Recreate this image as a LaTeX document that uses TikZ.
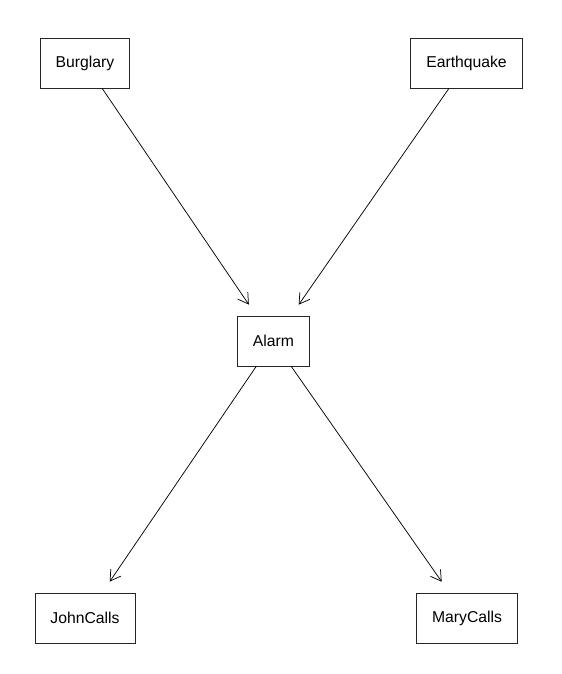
\documentclass[tikz,border=0pt]{standalone}
\usepackage{fontspec}
\setmainfont{Liberation Sans}
\usetikzlibrary{arrows.meta}
\begin{document}
\begin{tikzpicture}[
  x=0.75pt, y=-0.75pt,
  var/.style={draw=black!85, line width=0.55pt, fill=white,
    inner xsep=11.6pt, minimum height=37.5pt,
    font=\fontsize{11.8}{13.5}\selectfont},
  dep/.style={draw=black, line width=0.55pt,
    -{Straight Barb[length=7.6pt, width=9.2pt, line width=0.55pt]},
    shorten >=10pt}
]
\useasboundingbox (0,0) rectangle (561,674);

% variables of the network
\node[var] (burglary)   at (85,63)    {Burglary};
\node[var] (earthquake) at (466.5,63) {Earthquake};
\node[var] (alarm)      at (273.5,341){Alarm};
\node[var] (john)       at (85,618)   {JohnCalls};
\node[var] (mary)       at (467,618)  {MaryCalls};

% causal links
\draw[dep] (burglary)   -- (alarm);
\draw[dep] (earthquake) -- (alarm);
\draw[dep] (alarm)      -- (john);
\draw[dep] (alarm)      -- (mary);
\end{tikzpicture}
\end{document}
